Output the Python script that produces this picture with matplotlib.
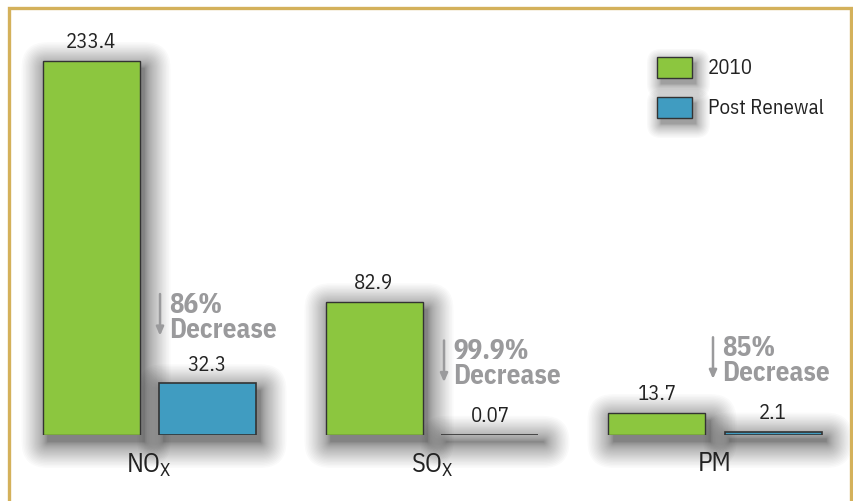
import matplotlib
matplotlib.use('Agg')
import matplotlib.pyplot as plt
from matplotlib.patches import Rectangle, FancyBboxPatch

# data
categories = ['NO$_\\mathregular{X}$', 'SO$_\\mathregular{X}$', 'PM']
series = ['2010', 'Post Renewal']
values_2010 = [233.4, 82.9, 13.7]
values_post = [32.3, 0.07, 2.1]
labels_2010 = ['233.4', '82.9', '13.7']
labels_post = ['32.3', '0.07', '2.1']
decrease = ['86%', '99.9%', '85%']

GREEN = '#8cc63f'
BLUE = '#409cc1'
GREY = '#9a9a9c'
GOLD = '#d4b15b'
TXT = '#222222'

plt.rcParams['font.family'] = ['IBM Plex Sans Condensed', 'Lato', 'DejaVu Sans']

W, H = 854, 502
fig = plt.figure(figsize=(W / 100, H / 100), dpi=100)

# axes placed in pixels: left 20, right 845, baseline 436, top 20 (from top)
ax = fig.add_axes([20 / W, 66 / H, 825 / W, 416 / H])
step = 283.0  # px between groups
xmin, xmax = -129 / step, 696 / step
ymax = 416 / 1.602
ax.set_xlim(xmin, xmax)
ax.set_ylim(0, ymax)
px_x = (xmax - xmin) / 825
px_y = ymax / 416

bw = 97 * px_x
off = 58 * px_x
x = list(range(len(categories)))


def shadow(target, x0, y0, w, h, sx, sy, dx=5, dy=7, spread=26, n=30, alpha=0.02, **kw):
    # soft drop shadow: stacked translucent rounded boxes, denser near the edge
    for k in range(1, n + 1):
        r = spread * (k / n) ** 1.8
        p = FancyBboxPatch((x0 + (dx - r) * sx, y0 - (dy + r) * sy),
                           w + 2 * r * sx, h + 2 * r * sy,
                           boxstyle=f'round,pad=0,rounding_size={max(r, 0.5) * sx}',
                           mutation_aspect=sy / sx, facecolor='black',
                           alpha=alpha, lw=0, **kw)
        target.add_patch(p) if hasattr(target, 'add_patch') else target.append(p)


for i in x:
    shadow(ax, i - off - bw / 2, 0, bw, values_2010[i], px_x, px_y,
           zorder=1, clip_on=False)
    shadow(ax, i + off - bw / 2, 0, bw, values_post[i], px_x, px_y,
           zorder=1, clip_on=False)

ax.bar([i - off for i in x], values_2010, bw, color=GREEN,
       edgecolor='#333333', lw=1, zorder=3, label=series[0])
ax.bar([i + off for i in x], values_post, bw, color=BLUE,
       edgecolor='#333333', lw=1.2, zorder=3, label=series[1])

for i in x:
    ax.annotate(labels_2010[i], (i - off, values_2010[i]), xytext=(0, 7),
                textcoords='offset points', ha='center', va='bottom',
                fontsize=15, color=TXT)
    ax.annotate(labels_post[i], (i + off, values_post[i]), xytext=(0, 7),
                textcoords='offset points', ha='center', va='bottom',
                fontsize=15, color=TXT)

# decrease arrows
arrow_dx = [11, 12, -2]      # px from group centre
arrow_top = [88, 59, 61]
arrow_len = 26
for i in x:
    ax_x = i + arrow_dx[i] * px_x
    ax.annotate('', xy=(ax_x, arrow_top[i] - arrow_len), xytext=(ax_x, arrow_top[i]),
                arrowprops=dict(arrowstyle='-|>,head_length=0.5,head_width=0.22',
                                color=GREY, lw=1.8, shrinkA=0, shrinkB=0),
                zorder=4)
    ax.text(ax_x + 9 * px_x, arrow_top[i] + 3 * px_y, decrease[i] + '\nDecrease',
            ha='left', va='top', fontsize=19.5, fontweight='bold', color=GREY,
            linespacing=0.88, zorder=4)

ax.set_xticks(x, categories)
ax.tick_params(axis='x', length=0, pad=11, labelsize=19, colors=TXT)
ax.set_yticks([])
for s in ax.spines.values():
    s.set_visible(False)

# legend drawn by hand so the boxes get shadows
for j, (lab, col) in enumerate(zip(series, [GREEN, BLUE])):
    top = 58 + 40 * j
    shadow(fig.patches, 657 / W, (H - top - 21) / H, 35 / W, 21 / H, 1 / W, 1 / H,
           dx=4, dy=6, spread=14, n=18, alpha=0.025, transform=fig.transFigure)
    fig.patches.append(Rectangle((657 / W, (H - top - 21) / H), 35 / W, 21 / H,
                                 transform=fig.transFigure, facecolor=col,
                                 edgecolor='#333333', lw=1))
    fig.text(708 / W, (H - top - 10.5) / H, lab, ha='left', va='center',
             fontsize=15, color=TXT)

# gold frame
fig.patches.append(Rectangle((8.5 / W, -0.1), 843 / W, (H - 9) / H + 0.1,
                             transform=fig.transFigure, fill=False,
                             edgecolor=GOLD, lw=2.4))

fig.savefig('out.png', dpi=100)
